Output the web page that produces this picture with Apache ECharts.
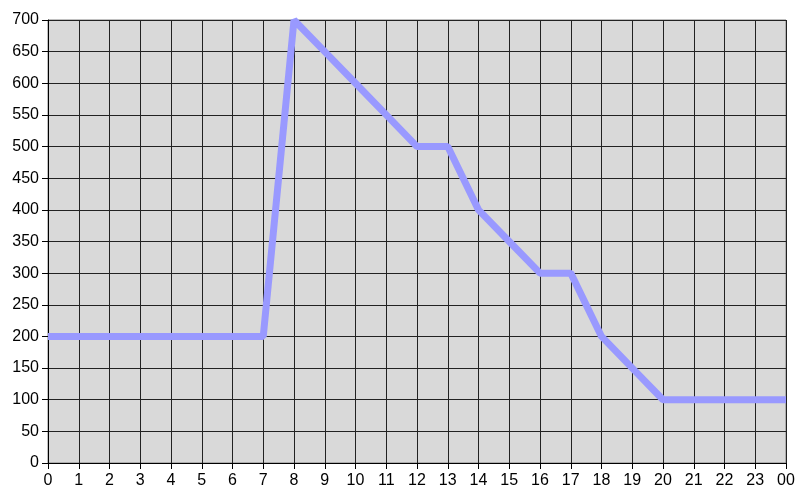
<!DOCTYPE html>
<html>
<head>
<meta charset="utf-8">
<script src="https://cdn.jsdelivr.net/npm/echarts@6/dist/echarts.min.js"></script>
<style>
html,body{margin:0;padding:0;background:#fff;}
#chart{width:799px;height:493px;}
</style>
</head>
<body>
<div id="chart"></div>
<script>
var hours = ['0','1','2','3','4','5','6','7','8','9','10','11','12','13','14','15','16','17','18','19','20','21','22','23','00'];
var values = [200,200,200,200,200,200,200,200,700,650,600,550,500,500,400,350,300,300,200,150,100,100,100,100,100];

var chart = echarts.init(document.getElementById('chart'));
var font = 'Liberation Sans, Arial, sans-serif';
chart.setOption({
    animation: false,
    grid: {left: 48, right: 13, top: 20, bottom: 30, show: true, backgroundColor: '#d9d9d9', borderColor: '#808080', borderWidth: 1},
    xAxis: {
        type: 'category',
        data: hours,
        boundaryGap: false,
        axisLine: {lineStyle: {color: '#000', width: 1}},
        axisTick: {show: true, interval: 0, length: 6, lineStyle: {color: '#000'}},
        axisLabel: {interval: 0, color: '#000', fontSize: 16, fontFamily: font, margin: 10},
        splitLine: {show: true, interval: 0, lineStyle: {color: '#222', width: 1}}
    },
    yAxis: {
        type: 'value',
        min: 0,
        max: 700,
        interval: 50,
        axisLine: {show: true, lineStyle: {color: '#000', width: 1}},
        axisTick: {show: true, length: 6, lineStyle: {color: '#000'}},
        axisLabel: {color: '#000', fontSize: 16, fontFamily: font, margin: 9},
        splitLine: {show: true, lineStyle: {color: '#222', width: 1}}
    },
    series: [{
        type: 'line',
        data: values,
        symbol: 'none',
        lineStyle: {color: '#9999ff', width: 7},
        itemStyle: {color: '#9999ff'}
    }]
});
</script>
</body>
</html>
